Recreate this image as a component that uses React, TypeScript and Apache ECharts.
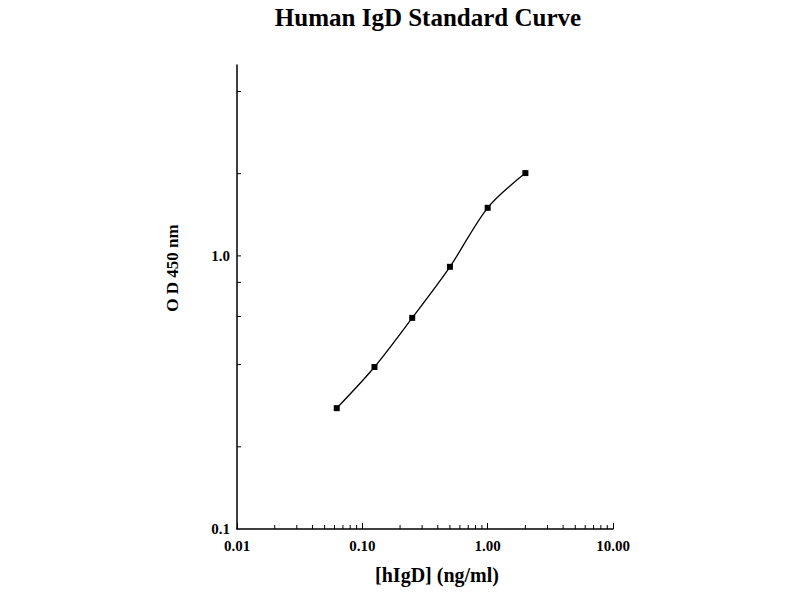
import React, { useEffect, useRef } from "react";
import * as echarts from "echarts";

const titleText = "Human IgD Standard Curve";
const xName = "[hIgD] (ng/ml)";
const yName = "O D 450 nm";
const concentrations = [0.0625, 0.125, 0.25, 0.5, 1, 2];
const odValues = [0.277, 0.392, 0.593, 0.912, 1.5, 2.01];
const xMinorTicks = [
  0.02, 0.03, 0.04, 0.05, 0.06, 0.07, 0.08, 0.09,
  0.2, 0.3, 0.4, 0.5, 0.6, 0.7, 0.8, 0.9,
  2, 3, 4, 5, 6, 7, 8, 9,
];
const yTicks = [0.2, 0.4, 0.6, 0.8, 1, 2, 4];
const yLabelValues = [0.1, 1];
const yLabelTexts = ["0.1", "1.0"];

const FONT = "Liberation Serif";

export default function App() {
  const ref = useRef<HTMLDivElement>(null);
  useEffect(() => {
    if (!ref.current) return;
    const chart = echarts.init(ref.current, null, { renderer: "svg" });
    const tickRender = (dir: "x" | "y") => (params: any, api: any) => {
      const p = api.coord([api.value(0), api.value(1)]);
      const len = 4;
      return {
        type: "line",
        shape:
          dir === "x"
            ? { x1: p[0], y1: p[1], x2: p[0], y2: p[1] - len }
            : { x1: p[0], y1: p[1], x2: p[0] + len, y2: p[1] },
        style: { stroke: "#000", lineWidth: 1 },
      };
    };
    chart.setOption({
      animation: false,
      backgroundColor: "#fff",
      title: {
        text: titleText,
        left: 423,
        top: 0,
        textAlign: "center",
        textStyle: { fontFamily: FONT, fontWeight: "bold", fontSize: 25, color: "#000" },
      },
      grid: { left: 237, right: 187, top: 65, bottom: 71 },
      graphic: [
        {
          type: "text",
          x: 172,
          y: 268,
          rotation: Math.PI / 2,
          style: {
            text: yName,
            fontFamily: FONT,
            fontWeight: "bold",
            fontSize: 17,
            fill: "#000",
            textAlign: "center",
            textVerticalAlign: "middle",
          },
        },
      ],
      xAxis: {
        type: "log",
        logBase: 10,
        min: 0.01,
        max: 10,
        name: xName,
        nameLocation: "middle",
        nameGap: 36,
        nameTextStyle: { fontFamily: FONT, fontWeight: "bold", fontSize: 20, color: "#000", padding: [0, 0, 0, 24] },
        axisLine: { lineStyle: { color: "#000", width: 1.5 } },
        axisTick: { show: true, inside: true, length: 6, lineStyle: { color: "#000" } },
        axisLabel: {
          color: "#000",
          fontFamily: FONT,
          fontWeight: "bold",
          fontSize: 15,
          margin: 9,
          formatter: (v: number) => v.toFixed(2),
        },
        splitLine: { show: false },
      },
      yAxis: {
        type: "log",
        logBase: 10,
        min: 0.1,
        max: 5,
        axisLine: { show: true, lineStyle: { color: "#000", width: 1.5 } },
        axisTick: { show: false },
        axisLabel: {
          color: "#000",
          fontFamily: FONT,
          fontWeight: "bold",
          fontSize: 15,
          margin: 7,
          formatter: (v: number) => {
            for (let i = 0; i < yLabelValues.length; i++) {
              if (Math.abs(v - yLabelValues[i]) < 1e-6) return yLabelTexts[i];
            }
            return "";
          },
        },
        splitLine: { show: false },
      },
      series: [
        {
          type: "line",
          data: concentrations.map((c, i) => [c, odValues[i]]),
          smooth: 0.3,
          symbol: "rect",
          symbolSize: 6,
          lineStyle: { color: "#000", width: 1.3 },
          itemStyle: { color: "#000" },
        },
        {
          type: "custom",
          renderItem: tickRender("x"),
          data: xMinorTicks.map((v) => [v, 0.1]),
          silent: true,
        },
        {
          type: "custom",
          renderItem: tickRender("y"),
          data: yTicks.map((v) => [0.01, v]),
          silent: true,
        },
      ],
    });
    return () => chart.dispose();
  }, []);
  return (
    <div
      ref={ref}
      style={{ position: "fixed", left: 0, top: 0, width: 800, height: 600 }}
    />
  );
}
